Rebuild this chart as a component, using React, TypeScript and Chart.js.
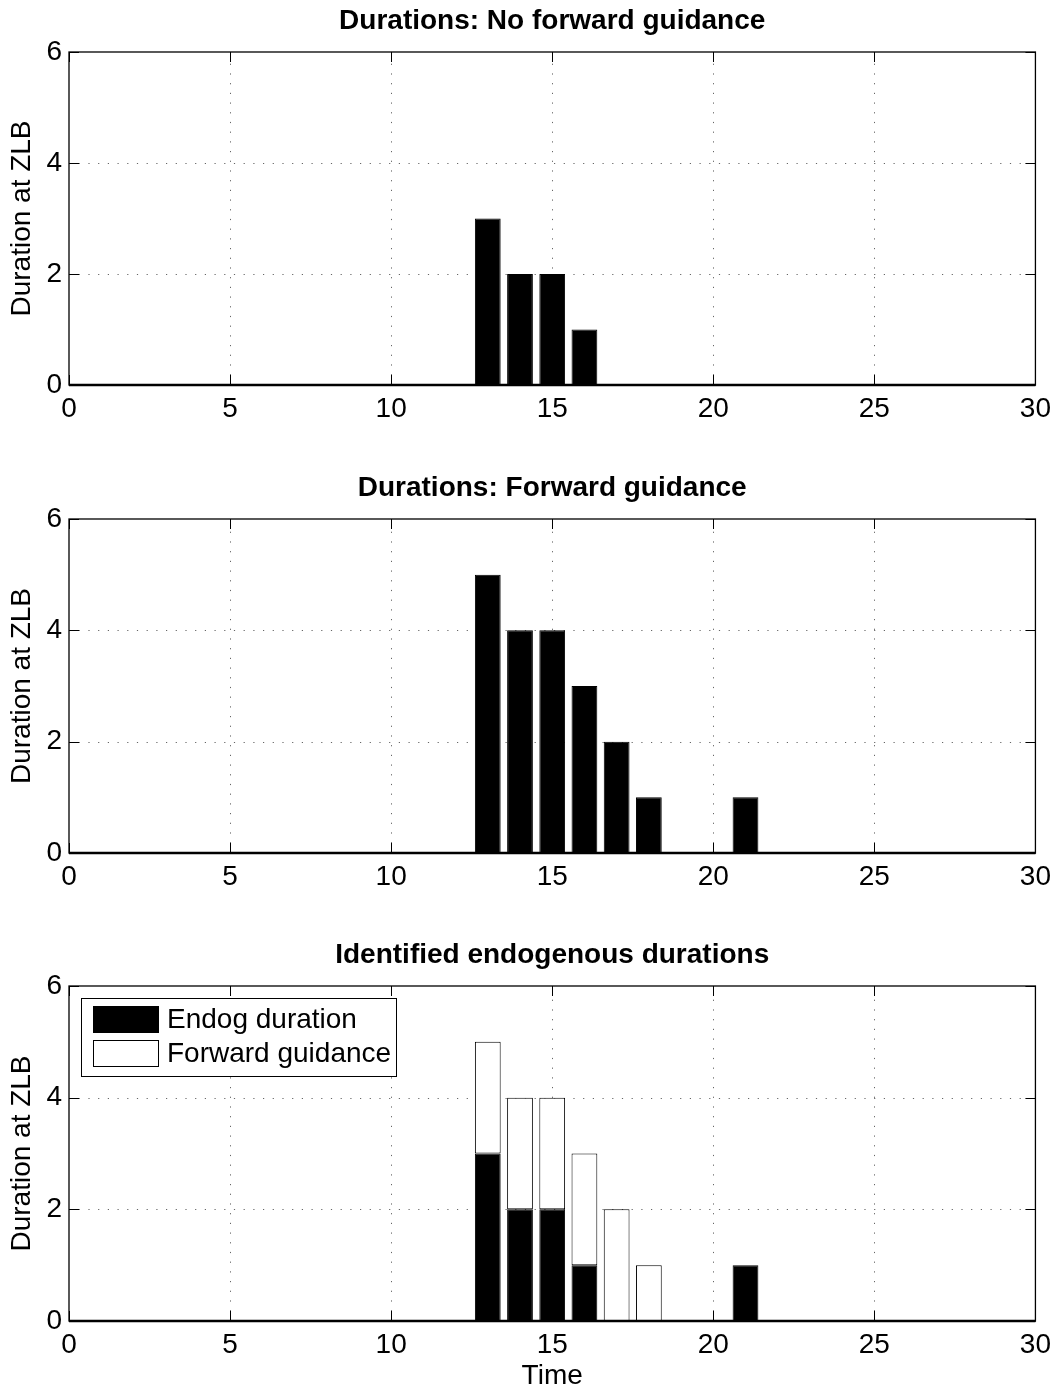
import React, { useEffect, useRef } from 'react';
import { Chart, registerables } from 'chart.js';

Chart.register(...registerables);

// ---- data ----
const times = [13, 14, 15, 16, 17, 18, 19, 20, 21];
const noGuidance = [3, 2, 2, 1, 0, 0, 0, 0, 0];
const withGuidance = [5, 4, 4, 3, 2, 1, 0, 0, 1];
const endogDuration = [3, 2, 2, 1, 0, 0, 0, 0, 1];
const forwardGuidance = [2, 2, 2, 2, 2, 1, 0, 0, 0];

const panelTitles = [
  'Durations: No forward guidance',
  'Durations: Forward guidance',
  'Identified endogenous durations',
];
const yAxisTitle = 'Duration at ZLB';
const xAxisTitle = 'Time';
const legendLabels = ['Endog duration', 'Forward guidance'];

const FONT = '"Liberation Sans", Arial, Helvetica, sans-serif';

const toPoints = (vals: number[]) => times.map((t, i) => ({ x: t, y: vals[i] }));

const matlabPlugin = {
  id: 'matlab',
  beforeDatasetsDraw(chart: any) {
    const { ctx, chartArea: a } = chart;
    const xs = chart.scales.x;
    const ys = chart.scales.y;
    ctx.save();
    ctx.strokeStyle = 'rgba(0,0,0,0.6)';
    ctx.lineWidth = 1;
    ctx.setLineDash([1.2, 8.5]);
    xs.ticks.forEach((t: any) => {
      if (t.value <= xs.min || t.value >= xs.max) return;
      const px = Math.round(xs.getPixelForValue(t.value)) + 0.5;
      ctx.beginPath();
      ctx.moveTo(px, a.bottom);
      ctx.lineTo(px, a.top);
      ctx.stroke();
    });
    ys.ticks.forEach((t: any) => {
      if (t.value <= ys.min || t.value >= ys.max) return;
      const py = Math.round(ys.getPixelForValue(t.value)) + 0.5;
      ctx.beginPath();
      ctx.moveTo(a.left, py);
      ctx.lineTo(a.right, py);
      ctx.stroke();
    });
    ctx.restore();
  },
  afterDatasetsDraw(chart: any, _args: any, opts: any) {
    const { ctx, chartArea: a } = chart;
    const xs = chart.scales.x;
    const ys = chart.scales.y;
    ctx.save();
    ctx.setLineDash([]);
    ctx.strokeStyle = '#000';
    // inward ticks
    ctx.lineWidth = 1;
    const len = 10;
    xs.ticks.forEach((t: any) => {
      const px = Math.round(xs.getPixelForValue(t.value)) + 0.5;
      ctx.beginPath();
      ctx.moveTo(px, a.bottom);
      ctx.lineTo(px, a.bottom - len);
      ctx.moveTo(px, a.top);
      ctx.lineTo(px, a.top + len);
      ctx.stroke();
    });
    ys.ticks.forEach((t: any) => {
      const py = Math.round(ys.getPixelForValue(t.value)) + 0.5;
      ctx.beginPath();
      ctx.moveTo(a.left, py);
      ctx.lineTo(a.left + len, py);
      ctx.moveTo(a.right, py);
      ctx.lineTo(a.right - len, py);
      ctx.stroke();
    });
    // box
    ctx.lineWidth = 1.3;
    ctx.strokeRect(a.left, a.top, a.right - a.left, a.bottom - a.top);
    // bar baseline
    const y0 = ys.getPixelForValue(0);
    ctx.lineWidth = 2.5;
    ctx.beginPath();
    ctx.moveTo(a.left, y0);
    ctx.lineTo(a.right, y0);
    ctx.stroke();

    if (opts && opts.legend) {
      const bx = a.left + 12;
      const by = a.top + 12;
      const bw = 315;
      const bh = 78;
      ctx.fillStyle = '#fff';
      ctx.fillRect(bx, by, bw, bh);
      ctx.lineWidth = 1;
      ctx.strokeRect(bx + 0.5, by + 0.5, bw, bh);
      const ds = chart.data.datasets;
      ds.forEach((d: any, i: number) => {
        const sy = by + 8 + i * 34;
        ctx.fillStyle = d.backgroundColor;
        ctx.fillRect(bx + 12, sy, 65, 26);
        ctx.strokeStyle = '#000';
        ctx.strokeRect(bx + 12.5, sy + 0.5, 65, 26);
        ctx.fillStyle = '#000';
        ctx.font = `28px ${FONT}`;
        ctx.textBaseline = 'middle';
        ctx.textAlign = 'left';
        ctx.fillText(d.label, bx + 86, sy + 14);
      });
    }
    ctx.restore();
  },
};

type PanelProps = {
  title: string;
  datasets: any[];
  top: number;
  height: number;
  xAxisHeight: number;
  showXTitle: boolean;
  legend: boolean;
};

function Panel({ title, datasets, top, height, xAxisHeight, showXTitle, legend }: PanelProps) {
  const ref = useRef<HTMLCanvasElement>(null);
  useEffect(() => {
    if (!ref.current) return;
    const tickFont = { family: FONT, size: 28 };
    const chart = new Chart(ref.current, {
      type: 'bar',
      data: { datasets },
      options: {
        responsive: false,
        animation: false,
        devicePixelRatio: 1,
        layout: { padding: { left: 0, right: 21, top: 0, bottom: 0 } },
        plugins: {
          legend: { display: false },
          tooltip: { enabled: false },
          title: {
            display: true,
            text: title,
            fullSize: false,
            color: '#000',
            font: { family: FONT, size: 28, weight: 'bold' },
            padding: { top: 4, bottom: 14.4 },
          },
          matlab: { legend },
        } as any,
        scales: {
          x: {
            type: 'linear',
            min: 0,
            max: 30,
            offset: false,
            stacked: true,
            grid: { display: false, drawTicks: false, offset: false },
            border: { display: false },
            ticks: {
              stepSize: 5,
              padding: 7,
              color: '#000',
              font: tickFont,
              maxRotation: 0,
              autoSkip: false,
            },
            title: {
              display: showXTitle,
              text: xAxisTitle,
              color: '#000',
              font: tickFont,
              padding: { top: 0, bottom: -3 },
            },
            afterFit: (s: any) => {
              s.height = xAxisHeight;
            },
          },
          y: {
            type: 'linear',
            min: 0,
            max: 6,
            stacked: true,
            grid: { display: false, drawTicks: false },
            border: { display: false },
            ticks: { stepSize: 2, padding: 7, color: '#000', font: tickFont },
            title: {
              display: true,
              text: yAxisTitle,
              color: '#000',
              font: tickFont,
              padding: { top: 5, bottom: 0 },
            },
            afterFit: (s: any) => {
              s.width = 69;
            },
          },
        } as any,
      },
      plugins: [matlabPlugin as any],
    });
    return () => chart.destroy();
  }, []);
  return (
    <canvas
      ref={ref}
      width={1058}
      height={height}
      style={{ position: 'absolute', left: 0, top, width: 1058, height, display: 'block' }}
    />
  );
}

const barBase = {
  borderColor: '#000',
  borderWidth: 1,
  borderSkipped: false,
  categoryPercentage: 1,
  barPercentage: 0.8,
};

export default function App() {
  const ds1 = [{ ...barBase, label: 'No forward guidance', data: toPoints(noGuidance), backgroundColor: '#000' }];
  const ds2 = [{ ...barBase, label: 'Forward guidance', data: toPoints(withGuidance), backgroundColor: '#000' }];
  const ds3 = [
    { ...barBase, label: legendLabels[0], data: toPoints(endogDuration), backgroundColor: '#000', stack: 's' },
    { ...barBase, label: legendLabels[1], data: toPoints(forwardGuidance), backgroundColor: '#fff', stack: 's' },
  ];
  return (
    <div style={{ position: 'absolute', left: 0, top: 0, width: 1058, height: 1390, background: '#fff', overflow: 'hidden' }}>
      <Panel title={panelTitles[0]} datasets={ds1} top={0} height={467} xAxisHeight={82} showXTitle={false} legend={false} />
      <Panel title={panelTitles[1]} datasets={ds2} top={467} height={467} xAxisHeight={81} showXTitle={false} legend={false} />
      <Panel title={panelTitles[2]} datasets={ds3} top={934} height={456} xAxisHeight={69} showXTitle={true} legend={true} />
    </div>
  );
}
